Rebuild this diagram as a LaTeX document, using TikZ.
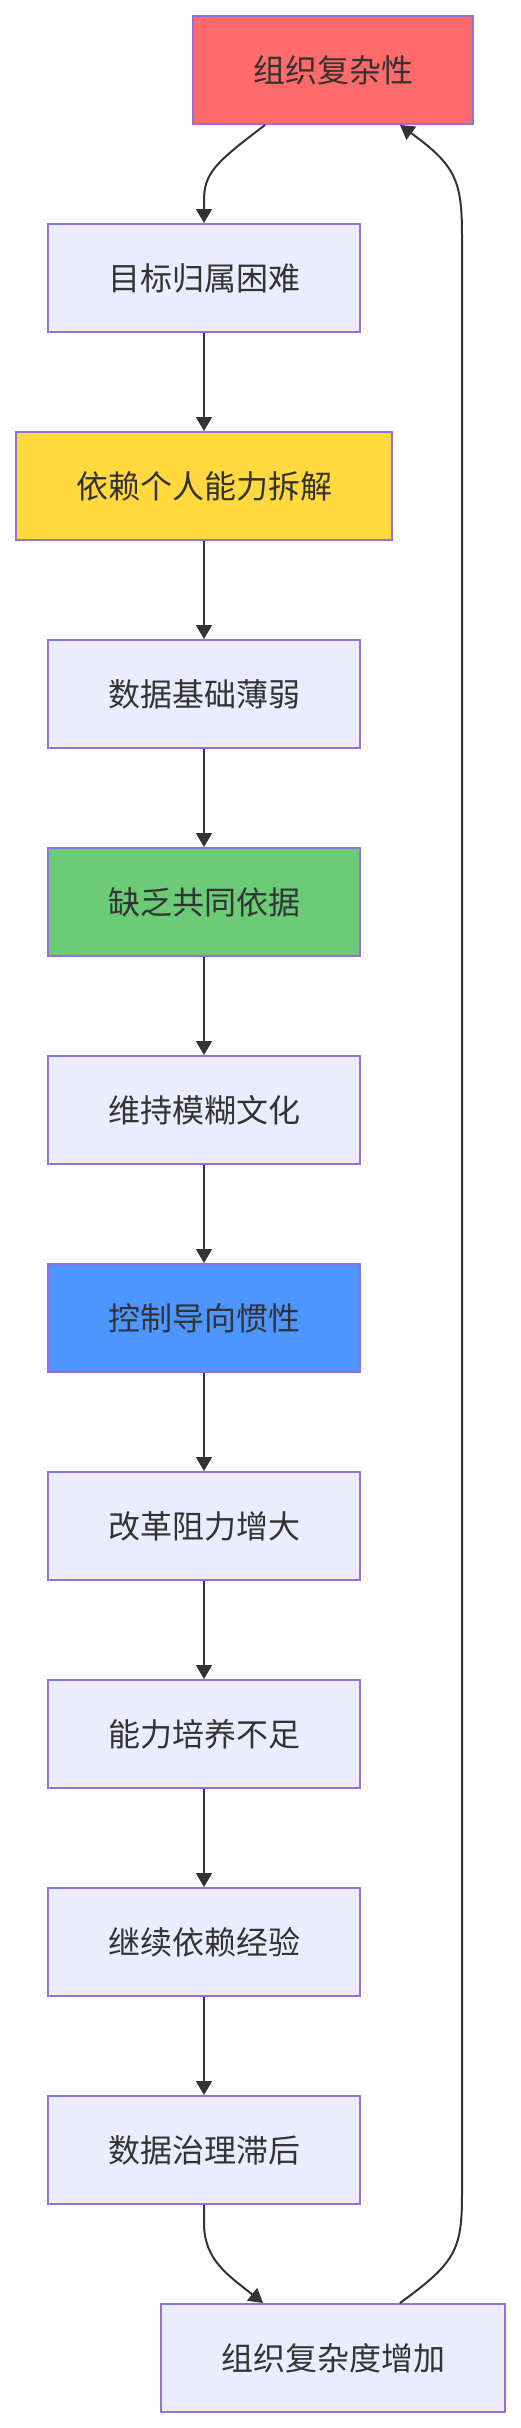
\documentclass[tikz,border=0pt]{standalone}
\usepackage{fontspec}
\setmainfont{Noto Sans CJK SC}
\usetikzlibrary{arrows.meta,calc}
\definecolor{nodefill}{HTML}{ECECFF}
\definecolor{nodeline}{HTML}{9370DB}
\definecolor{edgecol}{HTML}{333333}
\definecolor{txtcol}{HTML}{333333}
\definecolor{redfill}{HTML}{FF6B6B}
\definecolor{yellowfill}{HTML}{FFD93D}
\definecolor{greenfill}{HTML}{6BCB77}
\definecolor{bluefill}{HTML}{4D96FF}
\tikzset{
  box/.style={rectangle, draw=nodeline, line width=2pt, fill=nodefill, minimum height=108pt,
    minimum width=312pt, inner sep=0pt, text=txtcol, font=\fontsize{32}{38}\selectfont},
  flow/.style={draw=edgecol, line width=2pt, -{Triangle[length=14pt,width=16pt]}},
}
\begin{document}
\begin{tikzpicture}[x=1pt,y=-1pt]
\useasboundingbox (0,0) rectangle (521,2428);
\node[box, fill=redfill, minimum width=280pt] (b0) at (333,70) {组织复杂性};
\node[box] (b1) at (204,278) {目标归属困难};
\node[box, fill=yellowfill, minimum width=376pt] (b2) at (204,486) {依赖个人能力拆解};
\node[box] (b3) at (204,694) {数据基础薄弱};
\node[box, fill=greenfill] (b4) at (204,902) {缺乏共同依据};
\node[box] (b5) at (204,1110) {维持模糊文化};
\node[box, fill=bluefill] (b6) at (204,1318) {控制导向惯性};
\node[box] (b7) at (204,1526) {改革阻力增大};
\node[box] (b8) at (204,1734) {能力培养不足};
\node[box] (b9) at (204,1942) {继续依赖经验};
\node[box] (b10) at (204,2150) {数据治理滞后};
\node[box, minimum width=344pt] (b11) at (333,2358) {组织复杂度增加};

\coordinate (s0) at ($(b0.south)+(-68,0)$);
\coordinate (e0) at ($(b0.south)+(67,0)$);
\coordinate (s11) at ($(b11.north)+(67,0)$);
\coordinate (e11) at ($(b11.north)+(-70,0)$);

\draw[flow] (s0) .. controls ($(s0)+(-50,38)$) and ($(b1.north)+(0,-50)$) .. ($(b1.north)+(0,-22)$) -- (b1.north);
\foreach \a/\b in {1/2,2/3,3/4,4/5,5/6,6/7,7/8,8/9,9/10}{
  \draw[flow] (b\a.south) -- (b\b.north);
}
\draw[flow] (b10.south) -- ($(b10.south)+(0,18)$) .. controls ($(b10.south)+(0,55)$) and ($(e11)+(-35,-28)$) .. (e11);
\draw[flow] (s11) .. controls ($(s11)+(55,-40)$) and (462,2250) .. (462,2195) -- (462,235)
  .. controls (462,180) and ($(e0)+(55,40)$) .. (e0);
\end{tikzpicture}
\end{document}
